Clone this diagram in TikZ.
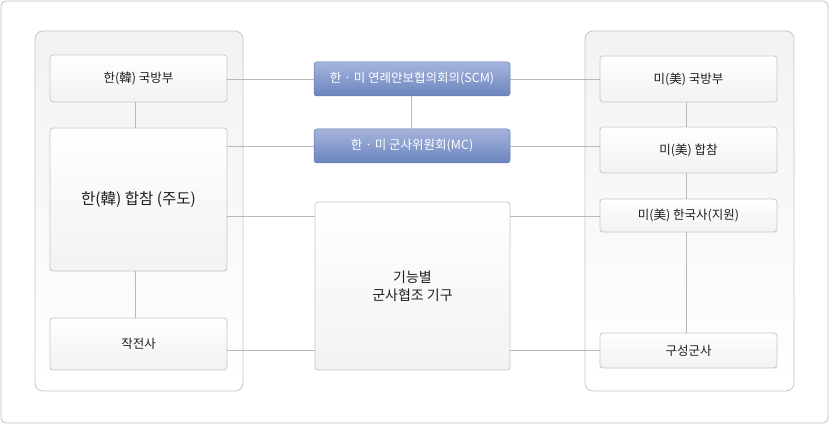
\documentclass[tikz,border=0pt]{standalone}
\usepackage{fontspec}
\setmainfont{Noto Sans CJK KR}
\definecolor{btop}{RGB}{165,180,220}
\definecolor{bbot}{RGB}{108,133,190}
\definecolor{bline}{RGB}{95,120,175}
\begin{document}
\begin{tikzpicture}[x=1pt,y=-1pt,
  conn/.style={draw=black!28,line width=0.8pt},
  panel/.style={draw=black!22,rounded corners=8pt,top color=black!5,bottom color=white,line width=0.8pt},
  gbox/.style={draw=black!22,rounded corners=3pt,top color=white,bottom color=black!5,line width=0.8pt},
  bbox/.style={draw=bline,rounded corners=3pt,top color=btop,bottom color=bbot,line width=0.5pt},
  lbl/.style={font=\fontsize{12.5}{14}\selectfont,text=black!88},
  wlbl/.style={font=\fontsize{12.5}{14}\selectfont,text=white}]
\useasboundingbox (0,0) rectangle (830,425);
\draw[draw=black!25,rounded corners=5pt,fill=white,line width=0.8pt] (1,1) rectangle (828,423);
\path[panel] (35,31) rectangle (243,391);
\path[panel] (585,31) rectangle (794,391);
% nodes
\path[gbox] (50,55) rectangle (227,102); \node[lbl] (k1) at (138.5,78.5) {한(韓) 국방부};
\path[gbox] (50,128) rectangle (227,271); \node[lbl,font=\fontsize{15.5}{18}\selectfont] (k2) at (138.5,199.5) {한(韓) 합참 (주도)};
\path[gbox] (50,318) rectangle (227,370); \node[lbl] (k3) at (138.5,344) {작전사};
\path[bbox] (314,62) rectangle (510,96); \node[wlbl] (scm) at (412,79) {한 · 미 연례안보협의회의(SCM)};
\path[bbox] (314,129) rectangle (510,163); \node[wlbl] (mc) at (412,146) {한 · 미 군사위원회(MC)};
\path[gbox] (315,202) rectangle (510,370); \node[lbl,align=center,font=\fontsize{14}{18}\selectfont] (c) at (412.5,286) {기능별\\군사협조 기구};
\path[gbox] (600,56) rectangle (777,102); \node[lbl] (u1) at (688.5,79) {미(美) 국방부};
\path[gbox] (600,127) rectangle (777,173); \node[lbl] (u2) at (688.5,150) {미(美) 합참};
\path[gbox] (600,199) rectangle (777,232); \node[lbl] (u3) at (688.5,215.5) {미(美) 한국사(지원)};
\path[gbox] (600,333) rectangle (777,368); \node[lbl] (u4) at (688.5,350.5) {구성군사};
% connectors
\coordinate (a1) at (227,79); \coordinate (a2) at (314,79); \coordinate (a3) at (510,79); \coordinate (a4) at (600,79);
\draw[conn] (a1)--(a2); \draw[conn] (a3)--(a4);
\coordinate (b1) at (227,146); \coordinate (b2) at (314,146); \coordinate (b3) at (510,146); \coordinate (b4) at (600,146);
\draw[conn] (b1)--(b2); \draw[conn] (b3)--(b4);
\coordinate (d1) at (227,216); \coordinate (d2) at (315,216); \coordinate (d3) at (510,216); \coordinate (d4) at (600,216);
\draw[conn] (d1)--(d2); \draw[conn] (d3)--(d4);
\coordinate (e1) at (227,350); \coordinate (e2) at (315,350); \coordinate (e3) at (510,350); \coordinate (e4) at (600,350);
\draw[conn] (e1)--(e2); \draw[conn] (e3)--(e4);
\coordinate (v1) at (135,102); \coordinate (v2) at (135,128); \coordinate (v3) at (135,271); \coordinate (v4) at (135,318);
\draw[conn] (v1)--(v2); \draw[conn] (v3)--(v4);
\coordinate (s1) at (411,96); \coordinate (s2) at (411,129); \draw[conn] (s1)--(s2);
\coordinate (r1) at (686,102); \coordinate (r2) at (686,127); \coordinate (r3) at (686,173); \coordinate (r4) at (686,199); \coordinate (r5) at (686,232); \coordinate (r6) at (686,333);
\draw[conn] (r1)--(r2); \draw[conn] (r3)--(r4); \draw[conn] (r5)--(r6);
\end{tikzpicture}
\end{document}
